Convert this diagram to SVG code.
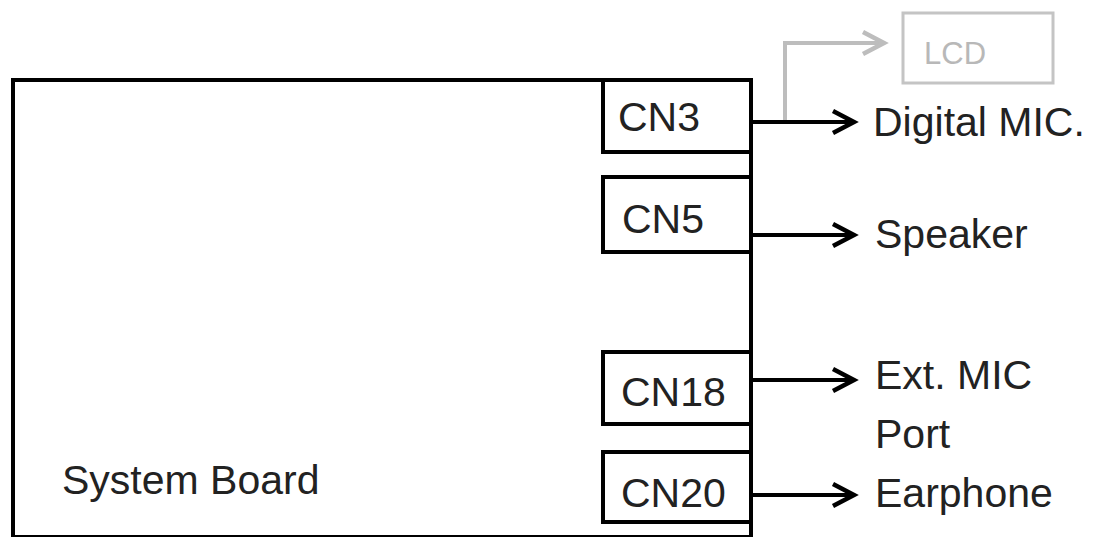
<svg xmlns="http://www.w3.org/2000/svg" width="1100" height="537" viewBox="0 0 1100 537">
<style>
.box{fill:#fff;stroke:#000;stroke-width:4}
.t{font-family:"Liberation Sans",Arial,sans-serif;font-size:41px;fill:#222}
.c{stroke:#000;stroke-width:4;fill:none}
.g{stroke:#bdbdbd;stroke-width:4;fill:none}
</style>
<defs>
<marker id="ah" markerWidth="12" markerHeight="12" refX="9" refY="6" orient="auto" markerUnits="userSpaceOnUse" viewBox="0 0 12 12" overflow="visible">
<path d="M-12,-5 L9,6 L-12,17" fill="none" stroke="#000" stroke-width="4.5"/>
</marker>
<marker id="ahg" markerWidth="12" markerHeight="12" refX="9" refY="6" orient="auto" markerUnits="userSpaceOnUse" viewBox="0 0 12 12" overflow="visible">
<path d="M-12,-5 L9,6 L-12,17" fill="none" stroke="#bdbdbd" stroke-width="4.5"/>
</marker>
</defs>
<rect width="1100" height="537" fill="#fff"/>
<g id="system-board">
<rect class="box" x="13" y="80" width="738" height="457"/>
<text class="t" x="62" y="494">System Board</text>
</g>
<g id="cn3"><rect class="box" x="603" y="80" width="148" height="72"/><text class="t" x="618" y="131">CN3</text></g>
<g id="cn5"><rect class="box" x="603" y="177" width="148" height="75"/><text class="t" x="622" y="233">CN5</text></g>
<g id="cn18"><rect class="box" x="603" y="352" width="148" height="72"/><text class="t" x="621" y="406">CN18</text></g>
<g id="cn20"><rect class="box" x="603" y="452" width="148" height="70"/><text class="t" x="621" y="507">CN20</text></g>
<g id="lcd"><rect x="903" y="13" width="150" height="70" fill="#fff" stroke="#c4c4c4" stroke-width="3"/><text x="924" y="64" font-family="Liberation Sans,Arial,sans-serif" font-size="31" fill="#b8b8b8">LCD</text></g>
<g id="digital-mic"><text class="t" x="873" y="136">Digital MIC.</text></g>
<g id="speaker"><text class="t" x="875" y="248">Speaker</text></g>
<g id="ext-mic"><text class="t" x="875" y="389">Ext. MIC</text><text class="t" x="875" y="448">Port</text></g>
<g id="earphone"><text class="t" x="875" y="507">Earphone</text></g>
<g id="connectors">
<path class="g" d="M785,120 V43 H884" marker-end="url(#ahg)"/>
<path class="c" d="M751,122 H854" marker-end="url(#ah)"/>
<path class="c" d="M751,235 H854" marker-end="url(#ah)"/>
<path class="c" d="M751,380 H854" marker-end="url(#ah)"/>
<path class="c" d="M751,495 H854" marker-end="url(#ah)"/>
</g>
</svg>
